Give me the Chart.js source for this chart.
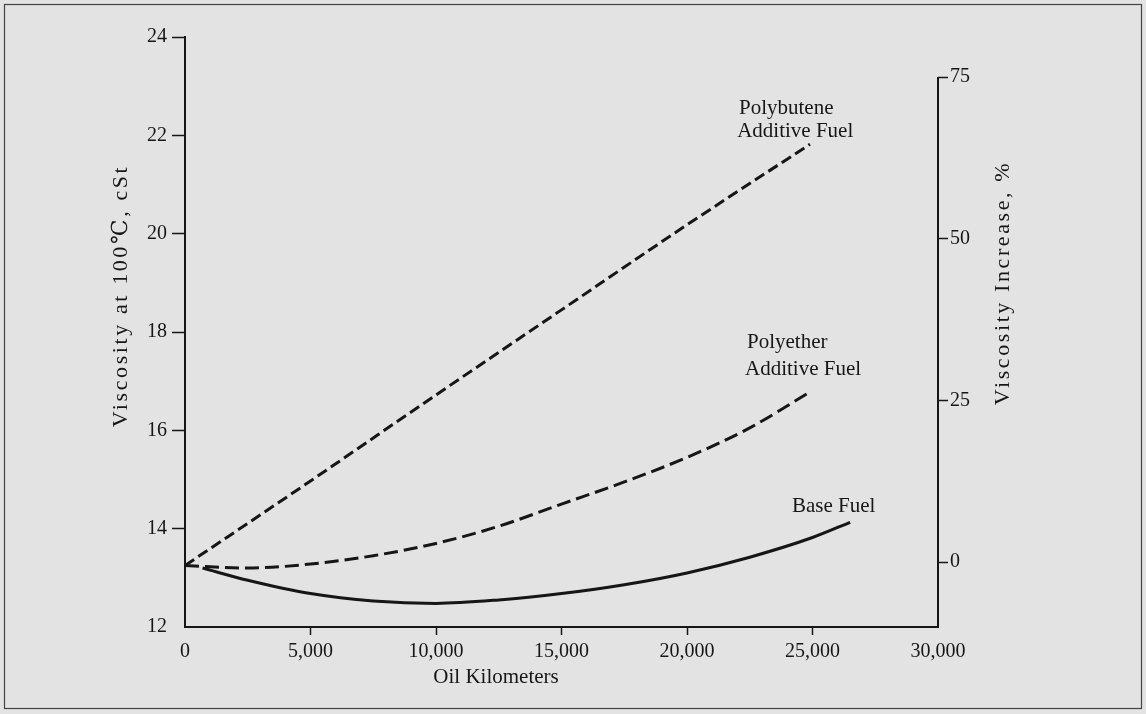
<!DOCTYPE html>
<html>
<head>
<meta charset="utf-8">
<script src="https://cdn.jsdelivr.net/npm/chart.js@4/dist/chart.umd.min.js"></script>
<style>
  html, body { margin: 0; padding: 0; background: #e3e3e3; }
  #wrap { width: 1146px; height: 714px; position: relative; }
</style>
</head>
<body>
<div id="wrap"><canvas id="c" width="1146" height="714"></canvas></div>
<script>
// Oil kilometres driven and kinematic viscosity at 100 °C (cSt)
const polybuteneKm   = [0, 5000, 10000, 15000, 20000, 24900];
const polybuteneVisc = [13.25, 14.97, 16.72, 18.45, 20.18, 21.82];

const polyetherKm   = [0, 2500, 5000, 7500, 10000, 12500, 15000, 17500, 20000, 22500, 24900];
const polyetherVisc = [13.25, 13.2, 13.28, 13.45, 13.7, 14.05, 14.5, 14.95, 15.45, 16.05, 16.78];

const baseKm   = [700, 2500, 5000, 7500, 10000, 12500, 15000, 17500, 20000, 22500, 25000, 26500];
const baseVisc = [13.2, 12.95, 12.68, 12.53, 12.48, 12.55, 12.68, 12.86, 13.1, 13.42, 13.82, 14.13];

// Axis ticks
const kmTicks       = [0, 5000, 10000, 15000, 20000, 25000, 30000];
const viscTicks     = [12, 14, 16, 18, 20, 22, 24];
const increaseTicks = [0, 25, 50, 75];

const FONT = "'Liberation Serif', 'DejaVu Serif', serif";
const INK = '#161616';

const toPoints = (xs, ys) => xs.map((x, i) => ({ x: x, y: ys[i] }));

// Curve captions, anchored in data units (km, cSt)
const curveCaptions = [
  { text: 'Polybutene',    km: 22070, visc: 22.43 },
  { text: 'Additive Fuel', km: 22000, visc: 21.97 },
  { text: 'Polyether',     km: 22390, visc: 17.67 },
  { text: 'Additive Fuel', km: 22310, visc: 17.12 },
  { text: 'Base Fuel',     km: 24180, visc: 14.34 }
];

const textPlugin = {
  id: 'chartText',
  beforeDraw(chart) {
    const ctx = chart.ctx;
    ctx.save();
    ctx.fillStyle = '#e3e3e3';
    ctx.fillRect(0, 0, chart.width, chart.height);
    ctx.restore();
  },
  afterDraw(chart) {
    const ctx = chart.ctx;
    const xs = chart.scales.x, yl = chart.scales.y, yr = chart.scales.yPct;
    ctx.save();

    // right-hand axis line runs from the 75 % tick down to the base line
    ctx.strokeStyle = INK;
    ctx.lineWidth = 2;
    ctx.beginPath();
    ctx.moveTo(yr.left, yr.getPixelForValue(75));
    ctx.lineTo(yr.left, chart.chartArea.bottom + 1);
    ctx.stroke();

    // outer frame
    ctx.lineWidth = 1.2;
    ctx.strokeStyle = '#444';
    ctx.strokeRect(4.5, 4.5, chart.width - 9, chart.height - 10);

    ctx.fillStyle = INK;
    ctx.font = '21px ' + FONT;
    ctx.textBaseline = 'alphabetic';
    ctx.textAlign = 'left';
    curveCaptions.forEach(c => {
      ctx.fillText(c.text, xs.getPixelForValue(c.km), yl.getPixelForValue(c.visc));
    });

    // axis titles
    ctx.textAlign = 'center';
    ctx.textBaseline = 'middle';
    ctx.fillText('Oil Kilometers', 496, 677);

    ctx.font = '22px ' + FONT;
    ctx.save();
    ctx.translate(121, 296);
    ctx.rotate(-Math.PI / 2);
    ctx.letterSpacing = '2.6px';
    ctx.fillText('Viscosity at 100\u2103, cSt', 0, 0);
    ctx.restore();

    ctx.save();
    ctx.translate(1003, 283);
    ctx.rotate(-Math.PI / 2);
    ctx.letterSpacing = '2.6px';
    ctx.fillText('Viscosity Increase, %', 0, 0);
    ctx.restore();

    ctx.restore();
  }
};

const lineStyle = {
  borderColor: INK,
  borderWidth: 3,
  pointRadius: 0,
  fill: false,
  cubicInterpolationMode: 'monotone'
};

new Chart(document.getElementById('c'), {
  type: 'line',
  data: {
    datasets: [
      Object.assign({ label: 'Polybutene Additive Fuel', data: toPoints(polybuteneKm, polybuteneVisc), borderDash: [11, 5] }, lineStyle),
      Object.assign({ label: 'Polyether Additive Fuel', data: toPoints(polyetherKm, polyetherVisc), borderDash: [14, 6] }, lineStyle),
      Object.assign({ label: 'Base Fuel', data: toPoints(baseKm, baseVisc) }, lineStyle)
    ]
  },
  options: {
    responsive: false,
    animation: false,
    events: [],
    layout: { padding: { top: 37, left: 0, right: 0, bottom: 0 } },
    plugins: { legend: { display: false }, tooltip: { enabled: false } },
    scales: {
      x: {
        type: 'linear',
        min: 0, max: 30000,
        afterFit(s) { s.height = 87; },
        afterBuildTicks(s) { s.ticks = kmTicks.map(v => ({ value: v })); },
        border: { display: true, color: INK, width: 2 },
        grid: {
          drawOnChartArea: false, drawTicks: true, tickLength: 8, tickWidth: 1.5,
          tickColor: c => (c.tick && (c.tick.value === 0 || c.tick.value === 30000)) ? 'rgba(0,0,0,0)' : INK
        },
        ticks: {
          color: INK, padding: 5, maxRotation: 0,
          font: { family: FONT, size: 20 },
          callback: v => v.toLocaleString('en-US')
        }
      },
      y: {
        type: 'linear', position: 'left',
        min: 12, max: 24,
        afterFit(s) { s.width = 185; },
        afterBuildTicks(s) { s.ticks = viscTicks.map(v => ({ value: v })); },
        border: { display: true, color: INK, width: 2 },
        grid: {
          drawOnChartArea: false, drawTicks: true, tickLength: 13, tickWidth: 1.5,
          tickColor: c => (c.tick && c.tick.value === 12) ? 'rgba(0,0,0,0)' : INK
        },
        ticks: { color: INK, padding: 5, font: { family: FONT, size: 20 } }
      },
      yPct: {
        type: 'linear', position: 'right',
        min: -10.05, max: 81.19,
        afterFit(s) { s.width = 208; },
        afterBuildTicks(s) { s.ticks = increaseTicks.map(v => ({ value: v })); },
        border: { display: false },
        grid: { drawOnChartArea: false, drawTicks: true, tickLength: 10, tickWidth: 1.5, tickColor: INK },
        ticks: { color: INK, padding: 2, font: { family: FONT, size: 20 } }
      }
    }
  },
  plugins: [textPlugin]
});
</script>
</body>
</html>
